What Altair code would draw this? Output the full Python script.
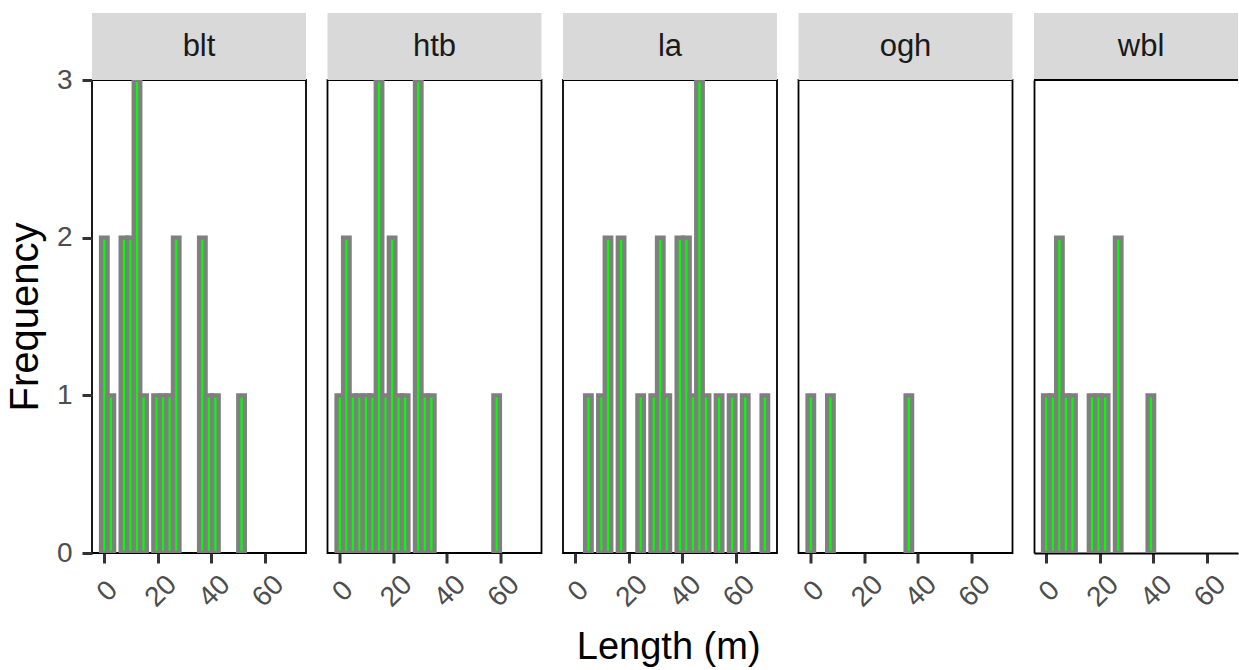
import altair as alt
import pandas as pd

# ---- data (bin centre length in m, frequency) ----
SITES = ["blt", "htb", "la", "ogh", "wbl"]
BIN_W = 2.44  # histogram bin width (m)

blt_len = [0.00, 2.44, 7.32, 9.76, 12.20, 14.64, 19.52, 21.96, 24.40, 26.84, 36.60, 39.04, 41.48, 51.24]
blt_cnt = [2, 1, 2, 2, 3, 1, 1, 1, 1, 2, 2, 1, 1, 1]

htb_len = [0.00, 2.44, 4.88, 7.32, 9.76, 12.20, 14.64, 17.08, 19.52, 21.96, 24.40, 29.28, 31.72, 34.16, 58.56]
htb_cnt = [1, 2, 1, 1, 1, 1, 3, 1, 2, 1, 1, 3, 1, 1, 1]

la_len = [4.88, 9.76, 12.20, 17.08, 24.40, 29.28, 31.72, 34.16, 39.04, 41.48, 43.92, 46.36, 48.80, 53.68, 58.56, 63.44, 70.76]
la_cnt = [1, 1, 2, 2, 1, 1, 2, 1, 2, 2, 1, 3, 1, 1, 1, 1, 1]

ogh_len = [0.00, 7.32, 36.60]
ogh_cnt = [1, 1, 1]

wbl_len = [0.00, 2.44, 4.88, 7.32, 9.76, 17.08, 19.52, 21.96, 26.84, 39.04]
wbl_cnt = [1, 1, 2, 1, 1, 1, 1, 1, 2, 1]

X_TICKS = [0, 20, 40, 60]
Y_TICKS = [0, 1, 2, 3]
X_DOMAIN = [-4.6, 75.3]

rows = []
for site, lens, cnts in zip(SITES,
                            [blt_len, htb_len, la_len, ogh_len, wbl_len],
                            [blt_cnt, htb_cnt, la_cnt, ogh_cnt, wbl_cnt]):
    for L, c in zip(lens, cnts):
        rows.append({"site": site, "start": L - BIN_W / 2, "end": L + BIN_W / 2, "count": c})
df = pd.DataFrame(rows)

PW, PH = 214, 473
STRIP_H = 67
FONT = "Liberation Sans"
BORDER = 1.8


def panel(site, idx):
    last = idx == len(SITES) - 1
    # the reference picture cuts the last panel at its right edge
    pw = 204 if last else PW
    dom = X_DOMAIN if not last else [X_DOMAIN[0], X_DOMAIN[0] + (X_DOMAIN[1] - X_DOMAIN[0]) * pw / PW]

    strip = alt.Chart().mark_rect(fill="#D9D9D9").encode(
        x=alt.value(0), x2=alt.value(pw), y=alt.value(-STRIP_H), y2=alt.value(0)
    ).transform_filter(alt.datum.site == site).transform_aggregate(n="count()", groupby=["site"])

    label = alt.Chart().mark_text(
        font=FONT, fontSize=31, color="#1A1A1A", align="center", baseline="middle"
    ).encode(
        x=alt.value(PW / 2), y=alt.value(-STRIP_H / 2), text="site:N"
    ).transform_filter(alt.datum.site == site).transform_aggregate(n="count()", groupby=["site"])

    if idx == 0:
        yaxis = alt.Axis(values=Y_TICKS, title="Frequency", labelPadding=10, titlePadding=11,
                         titleFontSize=40)
    elif last:
        yaxis = alt.Axis(values=Y_TICKS, title=None, labels=False, ticks=False,
                         domain=True, domainColor="black", domainWidth=BORDER)
    else:
        yaxis = None

    xaxis_kw = dict(values=X_TICKS, title=None, labelAngle=315, labelAlign="center",
                    labelBaseline="middle", labelPadding=28, labelOffset=3)
    if last:
        xaxis_kw.update(domain=True, domainColor="black", domainWidth=BORDER)

    bars = alt.Chart().mark_bar(
        fill="#00FF00", stroke="#7F7F7F", strokeWidth=4.3, clip=True
    ).encode(
        x=alt.X("start:Q", scale=alt.Scale(domain=dom, nice=False, zero=False),
                axis=alt.Axis(**xaxis_kw)),
        x2="end:Q",
        y=alt.Y("count:Q", scale=alt.Scale(domain=[0, 3], nice=False), axis=yaxis),
        y2=alt.datum(0),
    ).transform_filter(alt.datum.site == site)

    layers = [strip, bars, label]
    if last:
        top = alt.Chart().mark_rule(color="black", strokeWidth=BORDER).encode(
            x=alt.value(0), x2=alt.value(pw), y=alt.value(0)
        ).transform_filter(alt.datum.site == site).transform_aggregate(n="count()", groupby=["site"])
        layers.append(top)

    ch = alt.layer(*layers, data=df).properties(width=pw, height=PH)
    if last:
        ch = ch.properties(view=alt.ViewBackground(strokeOpacity=0))
    return ch


chart = alt.hconcat(*[panel(s, i) for i, s in enumerate(SITES)], spacing=21.5, bounds="flush").properties(
    title=alt.TitleParams("Length (m)", orient="bottom", anchor="middle", font=FONT,
                          fontSize=38, fontWeight="normal", color="black", offset=16, dx=47),
    padding={"left": 4, "top": 12, "right": 0, "bottom": 0},
    background="white",
).configure_view(
    stroke="black", strokeWidth=BORDER
).configure_axis(
    grid=False, domain=False,
    tickColor="#333333", tickWidth=3, tickSize=10,
    labelColor="#4D4D4D", labelFont=FONT, labelFontSize=28,
    titleFont=FONT, titleFontSize=38, titleFontWeight="normal", titleColor="black",
)

chart.save("out.html", embed_options={"renderer": "svg", "actions": False})
